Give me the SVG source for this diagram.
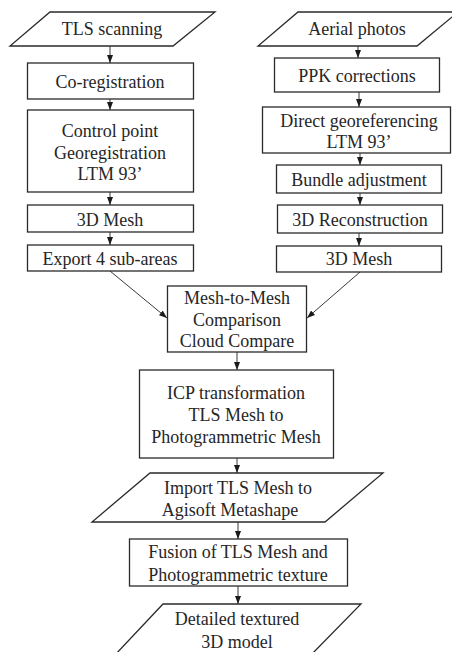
<svg xmlns="http://www.w3.org/2000/svg" width="452" height="652" viewBox="0 0 452 652">
  <style>
    .shape { fill: #ffffff; stroke: #2a2a2a; stroke-width: 1.3; }
    .label { font-family: "Liberation Serif", "Times New Roman", serif; font-size: 18px; fill: #262626; text-anchor: middle; }
    .edge { fill: none; stroke: #3a3a3a; stroke-width: 1; marker-end: url(#arrow); }
  </style>
  <defs>
    <marker id="arrow" markerUnits="userSpaceOnUse" markerWidth="8" markerHeight="8" viewBox="0 0 8 8" refX="8" refY="4" orient="auto">
      <path d="M0,1 L8,4 L0,7 Z" fill="#1a1a1a"/>
    </marker>
  </defs>
  <rect width="452" height="652" fill="#ffffff"/>

  <g id="connectors">
    <line class="edge" x1="110" y1="46" x2="110" y2="63"/>
    <line class="edge" x1="110" y1="99" x2="110" y2="110"/>
    <line class="edge" x1="110" y1="192" x2="110" y2="205"/>
    <line class="edge" x1="110" y1="232" x2="110" y2="245"/>
    <line class="edge" x1="358" y1="46" x2="358" y2="58"/>
    <line class="edge" x1="359" y1="92" x2="359" y2="107"/>
    <line class="edge" x1="360" y1="153" x2="360" y2="165"/>
    <line class="edge" x1="360" y1="193" x2="360" y2="205"/>
    <line class="edge" x1="359" y1="233" x2="359" y2="246"/>
    <line class="edge" x1="110" y1="271" x2="167" y2="318"/>
    <line class="edge" x1="360" y1="272" x2="307" y2="318"/>
    <line class="edge" x1="237" y1="352" x2="237" y2="370"/>
    <line class="edge" x1="237" y1="458" x2="237" y2="473"/>
    <line class="edge" x1="238" y1="522" x2="238" y2="539"/>
    <line class="edge" x1="238" y1="586" x2="238" y2="604"/>
  </g>

  <g id="tls-scanning">
    <polygon class="shape" points="50,12 215,12 173,46 10,46"/>
    <text class="label" x="112" y="35">TLS scanning</text>
  </g>
  <g id="co-registration">
    <rect class="shape" x="27.5" y="63" width="166" height="36"/>
    <text class="label" x="110" y="88">Co-registration</text>
  </g>
  <g id="control-point">
    <rect class="shape" x="27.5" y="110" width="166" height="82"/>
    <text class="label" x="110" y="137">Control point</text>
    <text class="label" x="110" y="158.5">Georegistration</text>
    <text class="label" x="110" y="180">LTM 93’</text>
  </g>
  <g id="tls-mesh">
    <rect class="shape" x="27.5" y="205" width="166" height="27"/>
    <text class="label" x="110" y="226">3D Mesh</text>
  </g>
  <g id="export-sub-areas">
    <rect class="shape" x="27.5" y="245" width="166" height="26"/>
    <text class="label" x="110" y="265">Export 4 sub-areas</text>
  </g>

  <g id="aerial-photos">
    <polygon class="shape" points="298,12 458,12 417,46 258,46"/>
    <text class="label" x="357" y="35">Aerial photos</text>
  </g>
  <g id="ppk-corrections">
    <rect class="shape" x="274.5" y="58" width="165" height="34"/>
    <text class="label" x="357" y="82">PPK corrections</text>
  </g>
  <g id="direct-georeferencing">
    <rect class="shape" x="262.5" y="107" width="188" height="46"/>
    <text class="label" x="359" y="127">Direct georeferencing</text>
    <text class="label" x="359" y="148">LTM 93’</text>
  </g>
  <g id="bundle-adjustment">
    <rect class="shape" x="276.5" y="165" width="165" height="28"/>
    <text class="label" x="359" y="186">Bundle adjustment</text>
  </g>
  <g id="reconstruction">
    <rect class="shape" x="277.5" y="205" width="165" height="28"/>
    <text class="label" x="360" y="226">3D Reconstruction</text>
  </g>
  <g id="photo-mesh">
    <rect class="shape" x="276.5" y="246" width="165" height="26"/>
    <text class="label" x="359" y="265">3D Mesh</text>
  </g>

  <g id="mesh-comparison">
    <rect class="shape" x="167.5" y="286" width="139" height="66"/>
    <text class="label" x="237" y="304">Mesh-to-Mesh</text>
    <text class="label" x="237" y="326">Comparison</text>
    <text class="label" x="237" y="347">Cloud Compare</text>
  </g>
  <g id="icp-transformation">
    <rect class="shape" x="139.5" y="370" width="194" height="88"/>
    <text class="label" x="236" y="399">ICP transformation</text>
    <text class="label" x="236" y="421">TLS Mesh to</text>
    <text class="label" x="236" y="443">Photogrammetric Mesh</text>
  </g>
  <g id="import-mesh">
    <polygon class="shape" points="150,473 383,473 325,522 92,522"/>
    <text class="label" x="238" y="494">Import TLS Mesh to</text>
    <text class="label" x="230" y="516">Agisoft Metashape</text>
  </g>
  <g id="fusion">
    <rect class="shape" x="129.5" y="539" width="218" height="47"/>
    <text class="label" x="238" y="558">Fusion of TLS Mesh and</text>
    <text class="label" x="238" y="581">Photogrammetric texture</text>
  </g>
  <g id="textured-model">
    <polygon class="shape" points="163,604 361,604 310,656 114,656"/>
    <text class="label" x="237" y="625">Detailed textured</text>
    <text class="label" x="237" y="648">3D model</text>
  </g>
</svg>
